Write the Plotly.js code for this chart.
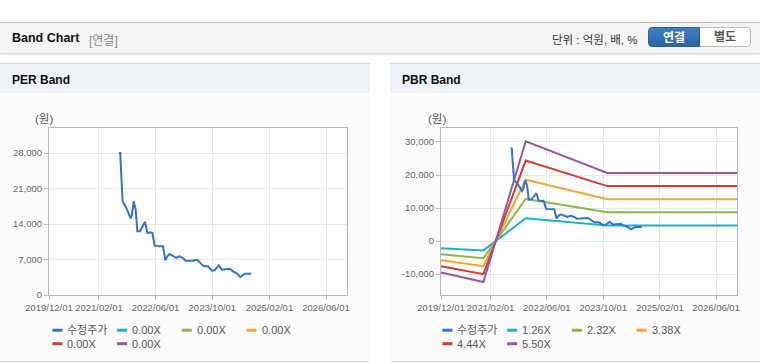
<!DOCTYPE html>
<html>
<head>
<meta charset="utf-8">
<script src="https://cdn.plot.ly/plotly-3.0.1.min.js"></script>
<style>
  html, body { margin:0; padding:0; width:760px; height:364px; overflow:hidden; background:#fff;
    font-family:'Liberation Sans','Noto Sans CJK KR',sans-serif; }
  #hdr { position:absolute; left:0; top:22px; width:760px; height:30px; background:#f4f4f4;
    border-top:1px solid #bdbdbd; box-shadow:0 1px 2px rgba(0,0,0,0.22); }
  #hdr .ttl { position:absolute; left:12px; top:8px; font-size:12.5px; font-weight:bold; color:#111; }
  #hdr .sub { position:absolute; left:89px; top:8px; font-size:12px; color:#8a8a8a; }
  #hdr .unit { position:absolute; left:552px; top:8px; font-size:11.5px; color:#333; }
  #hdr .btn1 { position:absolute; left:648px; top:4px; width:52px; height:20px; line-height:20px; text-align:center;
    background:linear-gradient(#3f80c4,#2a65a8); color:#fff; font-weight:bold; font-size:12px;
    border:1px solid #2a5f9c; border-radius:4px 0 0 4px; box-sizing:border-box; }
  #hdr .btn2 { position:absolute; left:700px; top:4px; width:51px; height:20px; line-height:18px; text-align:center;
    background:#fff; color:#555; font-weight:bold; font-size:12px;
    border:1px solid #bcbcbc; border-left:none; border-radius:0 4px 4px 0; box-sizing:border-box; }
  .panel { position:absolute; top:63px; width:370px; height:298px; background:#fcfcfc; border-bottom:1px solid #dcdcdc; }
  .panel .bar { position:absolute; left:0; top:0; width:370px; height:29px; background:#eef1f6; border-top:1px solid #d3d3d3; }
  .panel .bar span { position:absolute; left:12px; top:9px; font-size:12px; font-weight:bold; color:#111; }
  .panel .chart { position:absolute; left:0; top:30px; width:370px; height:268px; }
</style>
</head>
<body>
<div id="hdr">
  <span class="ttl">Band Chart</span><span class="sub">[연결]</span>
  <span class="unit">단위 : 억원, 배, %</span>
  <div class="btn1">연결</div><div class="btn2">별도</div>
</div>
<div class="panel" style="left:0"><div class="bar"><span>PER Band</span></div><div class="chart" id="per"></div></div>
<div class="panel" style="left:390px"><div class="bar"><span>PBR Band</span></div><div class="chart" id="pbr"></div></div>
<script>
// ---- data ----
const priceDates = ['2021-07-23','2021-08-03','2021-08-09','2021-08-18','2021-08-23','2021-09-24','2021-10-31','2021-11-11',
  '2021-11-26','2021-12-13','2021-12-27','2022-01-19','2022-02-05','2022-03-03','2022-03-23','2022-04-20','2022-05-05',
  '2022-05-25','2022-06-28','2022-08-04','2022-08-24','2022-09-10','2022-09-30','2022-10-29','2022-11-26','2022-12-25',
  '2023-01-23','2023-02-14','2023-04-18','2023-05-23','2023-06-14','2023-07-19','2023-08-25','2023-09-28','2023-10-21',
  '2023-11-24','2023-12-23','2024-01-29','2024-02-27','2024-03-26','2024-04-24','2024-05-28','2024-07-04','2024-08-30'];
const priceValues = [28000,28000,24700,21560,18470,17160,15120,15840,18470,16830,12560,12560,13210,14460,12230,12360,12230,
  9730,9600,9600,6840,7630,8090,7760,7300,7630,7300,6770,6770,6970,6440,5650,5650,4800,4870,5850,5000,5130,5190,4670,4340,
  3550,4210,4210];
const bandDates = ['2019-12-01','2020-12-01','2021-12-01','2023-11-05','2026-12-01'];
const pbrBand126 = [-2180,-2850,6920,4720,4720];
const pbrBand232 = [-4010,-5240,12740,8690,8690];
const pbrBand338 = [-5840,-7630,18560,12660,12660];
const pbrBand444 = [-7670,-10030,24380,16630,16630];
const pbrBand550 = [-9500,-12420,30200,20600,20600];
const perLegend = ['수정주가','0.00X','0.00X','0.00X','0.00X','0.00X'];
const pbrLegend = ['수정주가','1.26X','2.32X','3.38X','4.44X','5.50X'];
const xTickVals = ['2019-12-01','2021-02-01','2022-06-01','2023-10-01','2025-02-01','2026-06-01'];
const xTickText = ['2019/12/01','2021/02/01','2022/06/01','2023/10/01','2025/02/01','2026/06/01'];
const perYTicks = [0,7000,14000,21000,28000];
const pbrYTicks = [-10000,0,10000,20000,30000];
const yUnit = '(원)';

const colors = ['#3474c8','#1eb1c6','#8cb64f','#f1a834','#d63a2e','#9a56a4'];
const FONT = "'Liberation Sans','Noto Sans CJK KR',sans-serif";
const W = 370, H = 268;

function fmt(v){ return v.toLocaleString('en-US'); }

function makeLayout(l, yRange, yTicks, labels, unitX){
  const r = 22.7, t = 35.3, b = 65.7;
  const pw = W - l - r, ph = H - t - b;
  const px = x => (x - l) / pw;
  const py = y => (H - b - y) / ph;
  const shapes = [], ann = [];
  labels.forEach((txt, i) => {
    const row = Math.floor(i / 4), col = i % 4;
    const x0 = 52.7 + col * 64.7, y0 = 237.5 + row * 13.5;
    shapes.push({type:'line', xref:'paper', yref:'paper', x0:px(x0), x1:px(x0 + 10), y0:py(y0), y1:py(y0),
      line:{color:colors[i], width:3}});
    ann.push({xref:'paper', yref:'paper', x:px(x0 + 13), y:py(y0), xanchor:'left', yanchor:'middle', showarrow:false,
      text:txt, font:{size:11, color:'#555', family:FONT}});
  });
  ann.push({xref:'paper', yref:'paper', x:px(unitX), y:py(25.5), xanchor:'left', yanchor:'middle', showarrow:false,
    text:yUnit, font:{size:11.5, color:'#555', family:FONT}});
  return {
    width:W, height:H, margin:{l:l, r:r, t:t, b:b},
    paper_bgcolor:'#fcfcfc', plot_bgcolor:'#ffffff', showlegend:false,
    font:{family:FONT, color:'#666', size:9.5},
    xaxis:{type:'date', range:['2019-12-01','2026-11-28'], tickvals:xTickVals, ticktext:xTickText,
      ticks:'outside', ticklen:4, tickcolor:'#bbb', showgrid:true, gridcolor:'#e8e8e8', gridwidth:1,
      showline:true, mirror:true, linecolor:'#b8b8b8', linewidth:1, zeroline:false,
      tickfont:{size:9.5, color:'#666'}, fixedrange:true},
    yaxis:{range:yRange, tickvals:yTicks, ticktext:yTicks.map(fmt),
      ticks:'outside', ticklen:4, tickcolor:'#bbb', showgrid:true, gridcolor:'#e8e8e8', gridwidth:1,
      showline:true, mirror:true, linecolor:'#b8b8b8', linewidth:1, zeroline:false,
      tickfont:{size:9.5, color:'#666'}, fixedrange:true},
    shapes:shapes, annotations:ann
  };
}

const priceTrace = {x:priceDates, y:priceValues, type:'scatter', mode:'lines', name:'수정주가',
  line:{color:colors[0], width:2}, hoverinfo:'skip'};

Plotly.newPlot('per', [priceTrace], makeLayout(49.3, [0, 32930], perYTicks, perLegend, 33), {staticPlot:true});

const bands = [pbrBand126, pbrBand232, pbrBand338, pbrBand444, pbrBand550];
const pbrTraces = bands.map((b, i) => ({x:bandDates, y:b, type:'scatter', mode:'lines', name:pbrLegend[i+1],
  line:{color:colors[i+1], width:2}, hoverinfo:'skip'}));
pbrTraces.push(priceTrace);
Plotly.newPlot('pbr', pbrTraces, makeLayout(51.3, [-16360, 34240], pbrYTicks, pbrLegend, 36.7), {staticPlot:true});
</script>
</body>
</html>
